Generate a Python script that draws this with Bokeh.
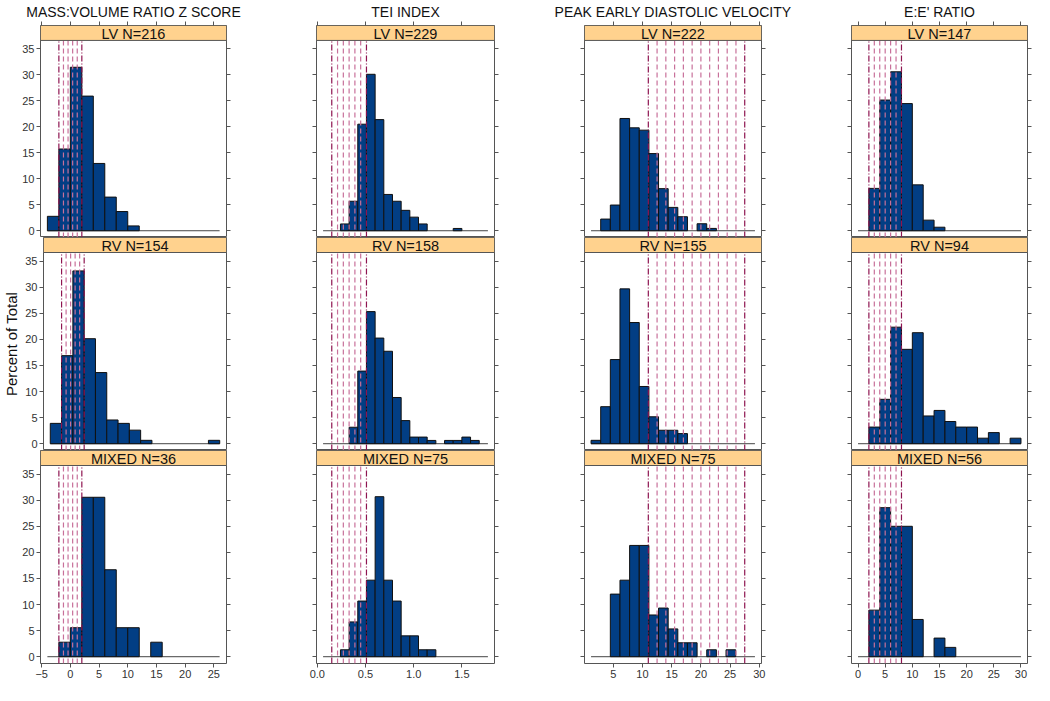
from bokeh.plotting import figure
from bokeh.models import (Range1d, LinearAxis, FixedTicker, PrintfTickFormatter,
                          BasicTickFormatter, CustomJSTickFormatter)
from bokeh.layouts import column, row
from bokeh.embed import file_html
from bokeh.resources import INLINE
from bokeh.core.properties import value

# ---------------- data ----------------
titles = ["MASS:VOLUME RATIO Z SCORE", "TEI INDEX", "PEAK EARLY DIASTOLIC VELOCITY", "E:E' RATIO"]
groups = ["LV", "RV", "MIXED"]

# column 1: mass:volume ratio z score
mass_breaks = [-4, -2, 0, 2, 4, 6, 8, 10, 12, 14, 16, 18, 20, 22, 24, 26]
mass_n = [216, 154, 36]
mass_lv = [2.78, 15.74, 31.48, 25.93, 12.96, 6.48, 3.70, 0.93, 0, 0, 0, 0, 0, 0, 0]
mass_rv = [3.90, 16.88, 33.12, 20.13, 13.64, 4.55, 3.90, 2.60, 0.65, 0, 0, 0, 0, 0, 0.65]
mass_mixed = [0, 2.78, 5.56, 30.56, 30.56, 16.67, 5.56, 5.56, 0, 2.78, 0, 0, 0, 0, 0]
mass_ref = [-2.0, -1.2, -0.4, 0.4, 1.2, 2.0]
mass_xticks = [-5, 0, 5, 10, 15, 20, 25]

# column 2: TEI index
tei_breaks = [0.06, 0.15, 0.24, 0.33, 0.42, 0.51, 0.60, 0.69, 0.78, 0.87, 0.96,
              1.05, 1.14, 1.23, 1.32, 1.41, 1.50, 1.59, 1.68, 1.77]
tei_n = [229, 158, 75]
tei_lv = [0, 0, 1.31, 5.68, 20.52, 30.13, 21.40, 6.99, 5.68, 3.93, 2.62, 1.31, 0, 0, 0, 0.44, 0, 0, 0]
tei_rv = [0, 0, 0, 3.16, 13.92, 25.32, 20.25, 17.72, 8.86, 4.43, 1.27, 1.27, 0.63, 0, 0.63, 0.63, 1.27, 0.63, 0]
tei_mixed = [0, 0, 1.33, 6.67, 10.67, 14.67, 30.67, 14.67, 10.67, 4.0, 4.0, 1.33, 1.33, 0, 0, 0, 0, 0, 0]
tei_ref = [0.15, 0.21, 0.27, 0.33, 0.39, 0.45, 0.51]
tei_xticks = [0.0, 0.5, 1.0, 1.5]

# column 3: peak early diastolic velocity
ped_breaks = [1.20, 2.85, 4.50, 6.15, 7.80, 9.45, 11.10, 12.75, 14.40, 16.05, 17.70,
              19.35, 21.00, 22.65, 24.30, 25.95, 27.60, 29.25]
ped_n = [222, 155, 75]
ped_lv = [0, 2.25, 4.95, 21.62, 19.82, 19.37, 14.86, 8.11, 4.50, 2.70, 0, 1.35, 0.45, 0, 0, 0, 0]
ped_rv = [0.65, 7.10, 16.13, 29.68, 23.23, 10.97, 5.16, 2.58, 2.58, 1.94, 0, 0, 0, 0, 0, 0, 0]
ped_mixed = [0, 0, 12.0, 14.67, 21.33, 21.33, 8.0, 9.33, 5.33, 2.67, 2.67, 0, 1.33, 0, 1.33, 0, 0]
ped_ref = [11.0, 12.5, 14.0, 15.5, 17.0, 18.5, 20.0, 21.5, 23.0, 24.5, 26.0, 27.5]
ped_xticks = [5, 10, 15, 20, 25, 30]

# column 4: E:E' ratio
ee_breaks = [0, 2, 4, 6, 8, 10, 12, 14, 16, 18, 20, 22, 24, 26, 28, 30]
ee_n = [147, 94, 56]
ee_lv = [0, 8.16, 25.17, 30.61, 24.49, 8.84, 2.04, 0.68, 0, 0, 0, 0, 0, 0, 0]
ee_rv = [0, 3.19, 8.51, 22.34, 18.09, 21.28, 5.32, 6.38, 4.26, 3.19, 3.19, 1.06, 2.13, 0, 1.06]
ee_mixed = [0, 8.93, 28.57, 25.0, 25.0, 7.14, 0, 3.57, 1.79, 0, 0, 0, 0, 0, 0]
ee_ref = [2, 3, 4, 5, 6, 7, 8]
ee_xticks = [0, 5, 10, 15, 20, 25, 30]

y_ticks = [0, 5, 10, 15, 20, 25, 30, 35]

columns_data = [
    dict(breaks=mass_breaks, n=mass_n, pct=[mass_lv, mass_rv, mass_mixed], ref=mass_ref, xticks=mass_xticks, fmt=None),
    dict(breaks=tei_breaks, n=tei_n, pct=[tei_lv, tei_rv, tei_mixed], ref=tei_ref, xticks=tei_xticks, fmt="%.1f"),
    dict(breaks=ped_breaks, n=ped_n, pct=[ped_lv, ped_rv, ped_mixed], ref=ped_ref, xticks=ped_xticks, fmt=None),
    dict(breaks=ee_breaks, n=ee_n, pct=[ee_lv, ee_rv, ee_mixed], ref=ee_ref, xticks=ee_xticks, fmt=None),
]

# ---------------- style / layout ----------------
FONT = "Liberation Sans"
BAR_FILL = "#023E84"
STRIP_FILL = "#FFD28E"
FRAME_COL = "#555555"
REF_OUTER = "#8E1450"
REF_INNER = "#C8709A"
Y_LO, Y_HI = -1.3, 36.65
FH = 213          # frame height (strip + panel)
STRIP_PX = 15
PANEL_PX = FH - STRIP_PX
TOP_B = 24
BOT_B = 22
COL_GEOM = [(40, 186, 45), (45, 178, 45), (45, 177, 45), (45, 176, 6)]

BLANK = CustomJSTickFormatter(code="return '';")


def make_panel(ci, ri):
    d = columns_data[ci]
    breaks = d["breaks"]
    pct = d["pct"][ri]
    lo, hi = breaks[0], breaks[-1]
    pad = 0.04 * (hi - lo)
    xlo, xhi = lo - pad, hi + pad
    ytop = Y_HI + (Y_HI - Y_LO) * STRIP_PX / PANEL_PX
    L, F, R = COL_GEOM[ci]
    T = TOP_B if ri == 0 else 0
    B = BOT_B if ri == 2 else 0
    p = figure(width=L + F + R, height=T + FH + B,
               x_range=Range1d(xlo, xhi), y_range=Range1d(Y_LO, ytop),
               output_backend="svg", toolbar_location=None,
               x_axis_location=None, y_axis_location=None,
               min_border_left=L, min_border_right=R,
               min_border_top=T, min_border_bottom=B,
               outline_line_color=FRAME_COL, outline_line_width=1,
               background_fill_color="white", border_fill_color="white")
    p.grid.visible = False

    # zero baseline spanning all bins
    p.line(x=[lo, hi], y=[0, 0], line_color="#444444", line_width=1)

    # bars
    lefts = [breaks[i] for i in range(len(pct)) if pct[i] > 0]
    rights = [breaks[i + 1] for i in range(len(pct)) if pct[i] > 0]
    tops = [v for v in pct if v > 0]
    p.quad(left=lefts, right=rights, bottom=0, top=tops,
           fill_color=BAR_FILL, line_color="#101010", line_width=1)

    # reference lines
    refs = d["ref"]
    inner = refs[1:-1]
    outer = [refs[0], refs[-1]]
    p.segment(x0=inner, x1=inner, y0=Y_LO, y1=Y_HI, line_color=REF_INNER,
              line_width=1.2, line_dash="5 3")
    p.segment(x0=outer, x1=outer, y0=Y_LO, y1=Y_HI, line_color=REF_OUTER,
              line_width=1.2, line_dash="6 2 1 2")

    # strip
    p.quad(left=[xlo], right=[xhi], bottom=[Y_HI], top=[ytop],
           fill_color=STRIP_FILL, line_color=FRAME_COL, line_width=1)
    p.text(x=[(xlo + xhi) / 2], y=[(Y_HI + ytop) / 2 - 0.15],
           text=[f"{groups[ri]} N={d['n'][ri]}"],
           text_align="center", text_baseline="middle",
           text_font=value(FONT), text_font_size="14.5px", text_color="#111111")

    def style(ax, labels):
        ax.axis_line_color = None
        ax.major_tick_line_color = FRAME_COL
        ax.major_tick_out = 4
        ax.major_tick_in = 0
        ax.minor_tick_line_color = None
        ax.major_label_text_font = FONT
        ax.axis_label_text_font = FONT
        ax.axis_label_text_font_style = "normal"
        ax.axis_label_text_color = "#111111"
        ax.major_label_text_color = "#333333"
        ax.major_label_text_font_size = "11px"
        if labels:
            ax.major_label_standoff = 2
        else:
            ax.formatter = BLANK
            ax.major_label_standoff = 0

    left = LinearAxis(ticker=FixedTicker(ticks=y_ticks))
    style(left, ci == 0)
    if ci == 0 and ri == 1:
        left.axis_label = "Percent of Total"
        left.axis_label_text_font_size = "15px"
        left.axis_label_standoff = 2
    p.add_layout(left, "left")

    right = LinearAxis(ticker=FixedTicker(ticks=y_ticks))
    style(right, False)
    p.add_layout(right, "right")

    if ri == 0:
        top = LinearAxis(ticker=FixedTicker(ticks=d["xticks"]))
        style(top, False)
        top.major_label_orientation = "vertical"
        top.axis_label = titles[ci]
        top.axis_label_text_font_size = "14px"
        top.axis_label_standoff = 2
        p.add_layout(top, "above")
    if ri == 2:
        fmt = PrintfTickFormatter(format=d["fmt"]) if d["fmt"] else BasicTickFormatter()
        bottom = LinearAxis(ticker=FixedTicker(ticks=d["xticks"]), formatter=fmt)
        style(bottom, True)
        p.add_layout(bottom, "below")
    return p


rows = []
for ri in range(3):
    rows.append(row(*[make_panel(ci, ri) for ci in range(4)], spacing=0))
layout = column(*rows, spacing=0)

open("out.html", "w").write(file_html(layout, INLINE))
